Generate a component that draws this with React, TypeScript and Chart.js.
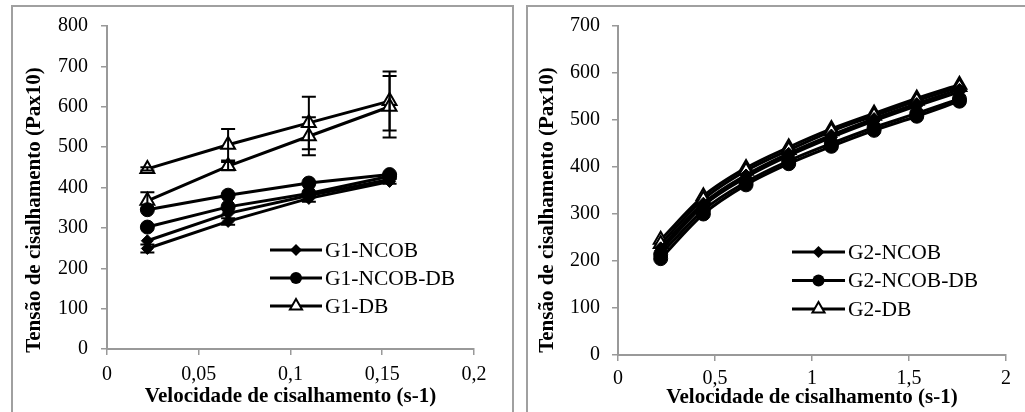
import React, { useEffect, useRef } from "react";
import { Chart, registerables } from "chart.js";

Chart.register(...registerables);

// ---------- data ----------
const g1Shear = [0.022, 0.066, 0.11, 0.154];
const g1NcobUp = [249, 316, 373, 415];
const g1NcobDown = [268, 336, 380, 420];
const g1NcobErr = [10, 8, 8, 6];
const g1NcobDbUp = [302, 352, 385, 428];
const g1NcobDbDown = [345, 381, 411, 432];
const g1DbUp = [367, 453, 527, 600];
const g1DbDown = [446, 506, 560, 614];
const g1DbUpErr = [21, 10, 47, 76];
const g1DbDownErr = [4, 39, 65, 73];

const g2Shear = [0.22, 0.44, 0.66, 0.88, 1.1, 1.32, 1.54, 1.76];
const g2NcobUp = [222, 318, 378, 424, 463, 498, 530, 560];
const g2NcobDown = [228, 323, 383, 429, 468, 503, 535, 565];
const g2NcobDbUp = [205, 300, 362, 407, 444, 478, 508, 540];
const g2NcobDbDown = [214, 308, 368, 413, 450, 484, 514, 545];
const g2DbUp = [236, 331, 392, 436, 476, 509, 541, 570];
const g2DbDown = [245, 338, 398, 442, 481, 514, 546, 575];

const g1XTicks = [0, 0.05, 0.1, 0.15, 0.2];
const g1XLabels = ["0", "0,05", "0,1", "0,15", "0,2"];
const g1YTicks = [0, 100, 200, 300, 400, 500, 600, 700, 800];
const g2XTicks = [0, 0.5, 1, 1.5, 2];
const g2XLabels = ["0", "0,5", "1", "1,5", "2"];
const g2YTicks = [0, 100, 200, 300, 400, 500, 600, 700];

const g1Legend = ["G1-NCOB", "G1-NCOB-DB", "G1-DB"];
const g2Legend = ["G2-NCOB", "G2-NCOB-DB", "G2-DB"];
const markerStyles = ["diamond", "circle", "triangle"];

const xTitle = "Velocidade de cisalhamento (s-1)";
const yTitle = "Tensão de cisalhamento (Pax10)";

const FONT = "'Liberation Serif', 'Times New Roman', serif";
Chart.defaults.font.family = FONT;
Chart.defaults.color = "#000";

// ---------- helpers ----------
function pts(xs: number[], ys: number[]) {
  return xs.map((x, i) => ({ x, y: ys[i] }));
}

function seriesStyle(kind: string) {
  if (kind === "diamond")
    return { pointStyle: "rectRot", pointRadius: 6, pointBackgroundColor: "#000", pointBorderColor: "#000", pointBorderWidth: 1 };
  if (kind === "circle")
    return { pointStyle: "circle", pointRadius: 7, pointBackgroundColor: "#000", pointBorderColor: "#000", pointBorderWidth: 1 };
  return { pointStyle: "triangle", pointRadius: 8, pointBackgroundColor: "#fff", pointBorderColor: "#000", pointBorderWidth: 2 };
}

function makeDataset(xs: number[], ys: number[], kind: string, errs?: number[], smooth?: boolean) {
  return {
    data: pts(xs, ys),
    showLine: true,
    borderColor: "#000",
    borderWidth: 3,
    tension: smooth ? 0.35 : 0,
    cubicInterpolationMode: smooth ? "monotone" : "default",
    errorBars: errs,
    ...seriesStyle(kind),
  };
}

const errorBarPlugin = {
  id: "errorBars",
  afterDatasetsDraw(chart: any) {
    const ctx = chart.ctx;
    const yScale = chart.scales.y;
    ctx.save();
    ctx.strokeStyle = "#000";
    ctx.lineWidth = 2;
    chart.data.datasets.forEach((ds: any, i: number) => {
      if (!ds.errorBars) return;
      const meta = chart.getDatasetMeta(i);
      meta.data.forEach((el: any, j: number) => {
        const e = ds.errorBars[j];
        if (!e) return;
        const v = ds.data[j].y;
        const top = yScale.getPixelForValue(v + e);
        const bot = yScale.getPixelForValue(v - e);
        const x = el.x;
        ctx.beginPath();
        ctx.moveTo(x, top);
        ctx.lineTo(x, bot);
        ctx.moveTo(x - 7, top);
        ctx.lineTo(x + 7, top);
        ctx.moveTo(x - 7, bot);
        ctx.lineTo(x + 7, bot);
        ctx.stroke();
      });
    });
    ctx.restore();
  },
};

function drawMarker(ctx: CanvasRenderingContext2D, kind: string, x: number, y: number) {
  ctx.save();
  ctx.fillStyle = "#000";
  ctx.strokeStyle = "#000";
  if (kind === "diamond") {
    const r = 6;
    ctx.beginPath();
    ctx.moveTo(x, y - r);
    ctx.lineTo(x + r, y);
    ctx.lineTo(x, y + r);
    ctx.lineTo(x - r, y);
    ctx.closePath();
    ctx.fill();
  } else if (kind === "circle") {
    ctx.beginPath();
    ctx.arc(x, y, 6, 0, Math.PI * 2);
    ctx.fill();
  } else {
    const r = 7;
    ctx.beginPath();
    ctx.moveTo(x, y - r);
    ctx.lineTo(x + r * 0.866, y + r * 0.5);
    ctx.lineTo(x - r * 0.866, y + r * 0.5);
    ctx.closePath();
    ctx.fillStyle = "#fff";
    ctx.fill();
    ctx.lineWidth = 2;
    ctx.stroke();
  }
  ctx.restore();
}

function makeLegendPlugin(labels: string[], x0: number, x1: number, y0: number, dy: number) {
  return {
    id: "customLegend",
    afterDraw(chart: any) {
      const ctx = chart.ctx;
      ctx.save();
      labels.forEach((label, i) => {
        const y = y0 + i * dy;
        ctx.strokeStyle = "#000";
        ctx.lineWidth = 3;
        ctx.beginPath();
        ctx.moveTo(x0, y);
        ctx.lineTo(x1, y);
        ctx.stroke();
        drawMarker(ctx, markerStyles[i], (x0 + x1) / 2, y);
        ctx.fillStyle = "#000";
        ctx.font = `21.5px ${FONT}`;
        ctx.textBaseline = "middle";
        ctx.textAlign = "left";
        ctx.fillText(label, x1 + 3, y + 1);
      });
      ctx.restore();
    },
  };
}

function makeYTitlePlugin(cx: number, cy: number) {
  return {
    id: "yTitle",
    afterDraw(chart: any) {
      const ctx = chart.ctx;
      ctx.save();
      ctx.translate(cx, cy);
      ctx.rotate(-Math.PI / 2);
      ctx.fillStyle = "#000";
      ctx.font = `bold 21px ${FONT}`;
      ctx.textAlign = "center";
      ctx.textBaseline = "middle";
      ctx.fillText(yTitle, 0, 0);
      ctx.restore();
    },
  };
}

function axisCommon() {
  return {
    grid: { display: true, drawOnChartArea: false, drawTicks: true, tickLength: 6, color: "#999", lineWidth: 1.5 },
    border: { display: true, color: "#999", width: 2 },
  };
}

function buildConfig(p: {
  datasets: any[];
  xMax: number;
  yMax: number;
  xTicks: number[];
  xLabels: string[];
  yTicks: number[];
  rightPad: number;
  yWidth: number;
  xHeight: number;
  yTickPad: number;
  xTickPad: number;
  xTitlePad: number;
  legend: any;
  yTitlePos: [number, number];
}) {
  return {
    type: "scatter",
    data: { datasets: p.datasets },
    options: {
      responsive: false,
      maintainAspectRatio: false,
      animation: false,
      devicePixelRatio: 1,
      layout: { padding: { left: 0, top: 26, right: p.rightPad, bottom: 0 } },
      plugins: { legend: { display: false }, tooltip: { enabled: false } },
      scales: {
        x: {
          type: "linear",
          min: 0,
          max: p.xMax,
          afterBuildTicks: (s: any) => {
            s.ticks = p.xTicks.map((v) => ({ value: v }));
          },
          afterFit: (s: any) => {
            s.height = p.xHeight;
          },
          ticks: {
            callback: (_v: any, i: number) => p.xLabels[i],
            font: { size: 20 },
            color: "#000",
            padding: p.xTickPad,
            maxRotation: 0,
            autoSkip: false,
          },
          title: {
            display: true,
            text: xTitle,
            font: { size: 21, weight: "bold" },
            color: "#000",
            padding: { top: 0, bottom: p.xTitlePad },
          },
          ...axisCommon(),
        },
        y: {
          type: "linear",
          min: 0,
          max: p.yMax,
          afterBuildTicks: (s: any) => {
            s.ticks = p.yTicks.map((v) => ({ value: v }));
          },
          afterFit: (s: any) => {
            s.width = p.yWidth;
          },
          ticks: {
            font: { size: 20 },
            color: "#000",
            padding: p.yTickPad,
            autoSkip: false,
          },
          title: { display: false },
          ...axisCommon(),
        },
      },
    },
    plugins: [errorBarPlugin, p.legend, makeYTitlePlugin(p.yTitlePos[0], p.yTitlePos[1])],
  } as any;
}

function leftConfig() {
  return buildConfig({
    datasets: [
      makeDataset(g1Shear, g1NcobUp, "diamond", g1NcobErr),
      makeDataset(g1Shear, g1NcobDown, "diamond"),
      makeDataset(g1Shear, g1NcobDbUp, "circle"),
      makeDataset(g1Shear, g1NcobDbDown, "circle"),
      makeDataset(g1Shear, g1DbUp, "triangle", g1DbUpErr),
      makeDataset(g1Shear, g1DbDown, "triangle", g1DbDownErr),
    ],
    xMax: 0.2,
    yMax: 800,
    xTicks: g1XTicks,
    xLabels: g1XLabels,
    yTicks: g1YTicks,
    rightPad: 38,
    yWidth: 107,
    xHeight: 63,
    yTickPad: 13,
    xTickPad: 8,
    xTitlePad: 3,
    legend: makeLegendPlugin(g1Legend, 270, 322, 250, 28),
    yTitlePos: [35, 210],
  });
}

function rightConfig() {
  return buildConfig({
    datasets: [
      makeDataset(g2Shear, g2NcobUp, "diamond", undefined, true),
      makeDataset(g2Shear, g2NcobDown, "diamond", undefined, true),
      makeDataset(g2Shear, g2NcobDbUp, "circle", undefined, true),
      makeDataset(g2Shear, g2NcobDbDown, "circle", undefined, true),
      makeDataset(g2Shear, g2DbUp, "triangle", undefined, true),
      makeDataset(g2Shear, g2DbDown, "triangle", undefined, true),
    ],
    xMax: 2,
    yMax: 700,
    xTicks: g2XTicks,
    xLabels: g2XLabels,
    yTicks: g2YTicks,
    rightPad: 19,
    yWidth: 105,
    xHeight: 57,
    yTickPad: 12,
    xTickPad: 6,
    xTitlePad: 2,
    legend: makeLegendPlugin(g2Legend, 279, 332, 252, 28.5),
    yTitlePos: [35, 210],
  });
}

function ChartPanel({ left, build }: { left: number; build: () => any }) {
  const ref = useRef<HTMLCanvasElement>(null);
  useEffect(() => {
    const chart = new Chart(ref.current as HTMLCanvasElement, build());
    return () => chart.destroy();
  }, []);
  return (
    <div style={{ position: "absolute", left, top: 0, width: 512, height: 412 }}>
      <canvas ref={ref} width={512} height={412} style={{ width: 512, height: 412, display: "block" }} />
    </div>
  );
}

export default function App() {
  const border = "2px solid #a0a0a0";
  return (
    <div style={{ position: "absolute", left: 0, top: 0, width: 1025, height: 412, overflow: "hidden", background: "#fff" }}>
      <div style={{ position: "absolute", left: 11, top: 5, width: 499, height: 420, borderLeft: border, borderTop: border, borderRight: border }} />
      <div style={{ position: "absolute", left: 526, top: 5, width: 520, height: 420, borderLeft: border, borderTop: border }} />
      <ChartPanel left={0} build={leftConfig} />
      <ChartPanel left={513} build={rightConfig} />
    </div>
  );
}
